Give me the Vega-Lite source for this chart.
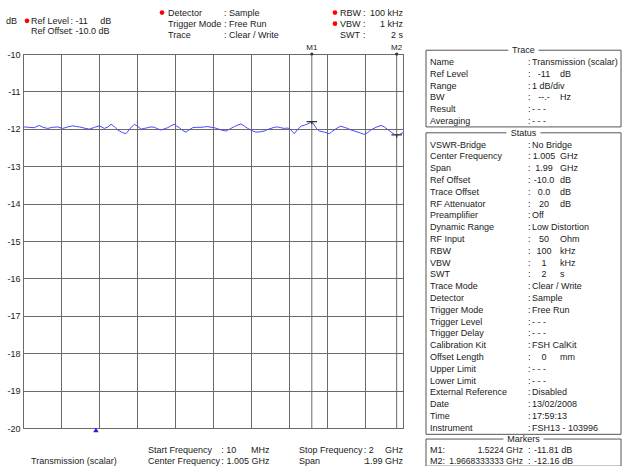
{
  "$schema": "https://vega.github.io/schema/vega-lite/v6.json",
  "background": "white",
  "padding": 0,
  "autosize": {"type": "pad"},
  "bounds": "flush",
  "spacing": 23,
  "config": {
    "text": {"font": "Liberation Sans", "fontSize": 9, "color": "#1a1a1a", "baseline": "middle"},
    "axis": {"labelFont": "Liberation Sans"},
    "view": {"stroke": null}
  },
  "datasets": {
    "trace": [
      {"f": 10, "db": -11.96}, {"f": 17, "db": -11.95}, {"f": 40, "db": -11.96}, {"f": 69, "db": -11.97},
      {"f": 95, "db": -11.91}, {"f": 115, "db": -11.96}, {"f": 139, "db": -11.99}, {"f": 165, "db": -11.96},
      {"f": 192, "db": -11.95}, {"f": 218, "db": -11.99}, {"f": 245, "db": -11.95}, {"f": 270, "db": -11.92},
      {"f": 290, "db": -11.94}, {"f": 305, "db": -11.95}, {"f": 330, "db": -11.98}, {"f": 357, "db": -12.01},
      {"f": 385, "db": -11.96}, {"f": 410, "db": -11.92}, {"f": 436, "db": -11.99}, {"f": 455, "db": -11.95},
      {"f": 471, "db": -11.88}, {"f": 490, "db": -11.95}, {"f": 506, "db": -12.03}, {"f": 530, "db": -12.1},
      {"f": 549, "db": -12.13}, {"f": 570, "db": -12.0}, {"f": 593, "db": -11.88}, {"f": 610, "db": -11.93},
      {"f": 628, "db": -12.01}, {"f": 645, "db": -11.99}, {"f": 663, "db": -11.97}, {"f": 680, "db": -11.95},
      {"f": 698, "db": -11.96}, {"f": 715, "db": -12.0}, {"f": 733, "db": -12.03}, {"f": 750, "db": -12.0},
      {"f": 768, "db": -11.97}, {"f": 785, "db": -11.92}, {"f": 802, "db": -11.88}, {"f": 815, "db": -11.93},
      {"f": 829, "db": -11.97}, {"f": 845, "db": -12.04}, {"f": 864, "db": -12.09}, {"f": 882, "db": -12.02},
      {"f": 899, "db": -11.97}, {"f": 920, "db": -11.96}, {"f": 942, "db": -11.96}, {"f": 960, "db": -11.95},
      {"f": 977, "db": -11.94}, {"f": 995, "db": -11.96}, {"f": 1012, "db": -11.97}, {"f": 1030, "db": -12.0},
      {"f": 1047, "db": -12.03}, {"f": 1073, "db": -12.06}, {"f": 1095, "db": -12.0}, {"f": 1117, "db": -11.94},
      {"f": 1135, "db": -11.9}, {"f": 1152, "db": -11.87}, {"f": 1170, "db": -11.93}, {"f": 1187, "db": -11.99},
      {"f": 1210, "db": -12.05}, {"f": 1230, "db": -12.09}, {"f": 1252, "db": -12.08}, {"f": 1274, "db": -12.06},
      {"f": 1290, "db": -12.02}, {"f": 1309, "db": -11.99}, {"f": 1325, "db": -11.96}, {"f": 1344, "db": -11.95},
      {"f": 1360, "db": -11.97}, {"f": 1378, "db": -11.99}, {"f": 1392, "db": -11.98}, {"f": 1405, "db": -11.99},
      {"f": 1418, "db": -12.06}, {"f": 1431, "db": -12.13}, {"f": 1448, "db": -12.02}, {"f": 1466, "db": -11.93},
      {"f": 1485, "db": -11.9}, {"f": 1501, "db": -11.87}, {"f": 1512, "db": -11.84}, {"f": 1522.4, "db": -11.81},
      {"f": 1535, "db": -11.9}, {"f": 1548, "db": -12.0}, {"f": 1562, "db": -12.06}, {"f": 1588, "db": -12.09},
      {"f": 1614, "db": -12.13}, {"f": 1627, "db": -12.08}, {"f": 1640, "db": -12.03}, {"f": 1658, "db": -11.97},
      {"f": 1675, "db": -11.93}, {"f": 1692, "db": -11.96}, {"f": 1710, "db": -11.99}, {"f": 1728, "db": -12.03},
      {"f": 1745, "db": -12.06}, {"f": 1770, "db": -12.1}, {"f": 1797, "db": -12.15}, {"f": 1815, "db": -12.1},
      {"f": 1832, "db": -12.03}, {"f": 1858, "db": -11.96}, {"f": 1885, "db": -11.91}, {"f": 1902, "db": -11.95},
      {"f": 1920, "db": -12.02}, {"f": 1938, "db": -12.09}, {"f": 1955, "db": -12.15}, {"f": 1966.83, "db": -12.16},
      {"f": 1982, "db": -12.15}, {"f": 2000, "db": -12.1}
    ],
    "markers": [
      {"name": "M1", "lab": "M1:", "f": 1522.4, "db": -11.81, "flabel": "1.5224 GHz", "dlabel": "-11.81 dB", "row": 33.9},
      {"name": "M2", "lab": "M2:", "f": 1966.8333333, "db": -12.16, "flabel": "1.9668333333 GHz", "dlabel": "-12.16 dB", "row": 34.85}
    ],
    "hdr": [
      {"blk": "ref", "line": 1.8, "label": "Ref Level", "val": ": -11", "unit": "dB", "dot": 1},
      {"blk": "ref", "line": 2.75, "label": "Ref Offset", "val": ": -10.0 dB", "dot": 0},
      {"blk": "det", "line": 1.05, "label": "Detector", "val": ": Sample", "dot": 1},
      {"blk": "det", "line": 2.05, "label": "Trigger Mode", "val": ": Free Run", "dot": 0},
      {"blk": "det", "line": 3.05, "label": "Trace", "val": ": Clear / Write", "dot": 0},
      {"blk": "bw", "line": 1.05, "label": "RBW", "val": "100 kHz", "dot": 1},
      {"blk": "bw", "line": 2.05, "label": "VBW", "val": "1 kHz", "dot": 1},
      {"blk": "bw", "line": 3.05, "label": "SWT", "val": "2 s", "dot": 0}
    ],
    "ftr": [
      {"blk": "start", "line": 2, "label": "Start Frequency", "cv": ": 10", "right": "MHz"},
      {"blk": "start", "line": 3, "label": "Center Frequency", "cv": ":", "right": "1.005 GHz"},
      {"blk": "stop", "line": 2, "label": "Stop Frequency", "cv": ": 2", "right": "GHz"},
      {"blk": "stop", "line": 3, "label": "Span", "cv": ":", "right": "1.99 GHz"}
    ],
    "info": [
      {"row": 1, "label": "Name", "val": "Transmission (scalar)"},
      {"row": 2, "label": "Ref Level", "num": "-11", "unit": "dB"},
      {"row": 3, "label": "Range", "val": "1 dB/div"},
      {"row": 4, "label": "BW", "num": "--.-", "unit": "Hz"},
      {"row": 5, "label": "Result", "val": "- - -"},
      {"row": 6, "label": "Averaging", "val": "- - -"},
      {"row": 8, "label": "VSWR-Bridge", "val": "No Bridge"},
      {"row": 9, "label": "Center Frequency", "num": "1.005", "unit": "GHz"},
      {"row": 10, "label": "Span", "num": "1.99", "unit": "GHz"},
      {"row": 11, "label": "Ref Offset", "num": "-10.0", "unit": "dB"},
      {"row": 12, "label": "Trace Offset", "num": "0.0", "unit": "dB"},
      {"row": 13, "label": "RF Attenuator", "num": "20", "unit": "dB"},
      {"row": 14, "label": "Preamplifier", "val": "Off"},
      {"row": 15, "label": "Dynamic Range", "val": "Low Distortion"},
      {"row": 16, "label": "RF Input", "num": "50", "unit": "Ohm"},
      {"row": 17, "label": "RBW", "num": "100", "unit": "kHz"},
      {"row": 18, "label": "VBW", "num": "1", "unit": "kHz"},
      {"row": 19, "label": "SWT", "num": "2", "unit": "s"},
      {"row": 20, "label": "Trace Mode", "val": "Clear / Write"},
      {"row": 21, "label": "Detector", "val": "Sample"},
      {"row": 22, "label": "Trigger Mode", "val": "Free Run"},
      {"row": 23, "label": "Trigger Level", "val": "- - -"},
      {"row": 24, "label": "Trigger Delay", "val": "- - -"},
      {"row": 25, "label": "Calibration Kit", "val": "FSH CalKit"},
      {"row": 26, "label": "Offset Length", "num": "0", "unit": "mm"},
      {"row": 27, "label": "Upper Limit", "val": "- - -"},
      {"row": 28, "label": "Lower Limit", "val": "- - -"},
      {"row": 29, "label": "External Reference", "val": "Disabled"},
      {"row": 30, "label": "Date", "val": "13/02/2008"},
      {"row": 31, "label": "Time", "val": "17:59:13"},
      {"row": 32, "label": "Instrument", "val": "FSH13 - 103996"}
    ]
  },
  "hconcat": [
    {
      "width": 380, "height": 374,
      "view": {"stroke": "#4d4d4d", "strokeWidth": 1, "fill": "white"},
      "resolve": {"scale": {"x": "independent", "y": "independent"}},
      "layer": [
        {
          "layer": [
            {"data": {"values": [{}]}, "mark": {"type": "rect", "color": "white", "opacity": 1},
             "encoding": {"x": {"datum": -5.79, "type": "quantitative", "scale": {"domain": [0, 100], "nice": false, "zero": false}, "axis": null}, "x2": {"datum": 0},
                          "y": {"datum": 0, "type": "quantitative", "scale": {"domain": [4.8007, 38.678], "reverse": true, "nice": false, "zero": false}, "axis": null}, "y2": {"datum": 4.2}}},
            {"data": {"values": [{}]}, "mark": {"type": "text", "text": "dB", "align": "left"},
             "encoding": {"x": {"datum": -4.47, "type": "quantitative"},
                          "y": {"datum": 1.8, "type": "quantitative"}}},
            {"data": {"name": "hdr"}, "transform": [{"filter": "datum.blk == 'ref'"}], "mark": {"type": "text", "align": "left"},
             "encoding": {"x": {"datum": 2.1, "type": "quantitative"}, "y": {"field": "line", "type": "quantitative"}, "text": {"field": "label"}}},
            {"data": {"name": "hdr"}, "transform": [{"filter": "datum.blk == 'ref'"}], "mark": {"type": "text", "align": "left"},
             "encoding": {"x": {"datum": 12.5, "type": "quantitative"}, "y": {"field": "line", "type": "quantitative"}, "text": {"field": "val"}}},
            {"data": {"name": "hdr"}, "transform": [{"filter": "datum.blk == 'ref' && isValid(datum.unit)"}], "mark": {"type": "text", "align": "left"},
             "encoding": {"x": {"datum": 20.3, "type": "quantitative"}, "y": {"field": "line", "type": "quantitative"}, "text": {"field": "unit"}}},
            {"data": {"name": "hdr"}, "transform": [{"filter": "datum.blk == 'ref' && datum.dot == 1"}], "mark": {"type": "point", "filled": true, "color": "#ff0000", "size": 22, "opacity": 1},
             "encoding": {"x": {"datum": 1.05, "type": "quantitative"}, "y": {"field": "line", "type": "quantitative"}}},
            {"data": {"name": "hdr"}, "transform": [{"filter": "datum.blk == 'det'"}], "mark": {"type": "text", "align": "left"},
             "encoding": {"x": {"datum": 38.16, "type": "quantitative"}, "y": {"field": "line", "type": "quantitative"}, "text": {"field": "label"}}},
            {"data": {"name": "hdr"}, "transform": [{"filter": "datum.blk == 'det'"}], "mark": {"type": "text", "align": "left"},
             "encoding": {"x": {"datum": 52.9, "type": "quantitative"}, "y": {"field": "line", "type": "quantitative"}, "text": {"field": "val"}}},
            {"data": {"name": "hdr"}, "transform": [{"filter": "datum.blk == 'det' && datum.dot == 1"}], "mark": {"type": "point", "filled": true, "color": "#ff0000", "size": 22, "opacity": 1},
             "encoding": {"x": {"datum": 36.58, "type": "quantitative"}, "y": {"field": "line", "type": "quantitative"}}},
            {"data": {"name": "hdr"}, "transform": [{"filter": "datum.blk == 'bw'"}], "mark": {"type": "text", "align": "left"},
             "encoding": {"x": {"datum": 83.42, "type": "quantitative"}, "y": {"field": "line", "type": "quantitative"}, "text": {"field": "label"}}},
            {"data": {"name": "hdr"}, "transform": [{"filter": "datum.blk == 'bw'"}], "mark": {"type": "text", "align": "left", "text": ":"},
             "encoding": {"x": {"datum": 89.5, "type": "quantitative"}, "y": {"field": "line", "type": "quantitative"}}},
            {"data": {"name": "hdr"}, "transform": [{"filter": "datum.blk == 'bw'"}], "mark": {"type": "text", "align": "right"},
             "encoding": {"x": {"datum": 100, "type": "quantitative"}, "y": {"field": "line", "type": "quantitative"}, "text": {"field": "val"}}},
            {"data": {"name": "hdr"}, "transform": [{"filter": "datum.blk == 'bw' && datum.dot == 1"}], "mark": {"type": "point", "filled": true, "color": "#ff0000", "size": 22, "opacity": 1},
             "encoding": {"x": {"datum": 82.1, "type": "quantitative"}, "y": {"field": "line", "type": "quantitative"}}}
          ]
        },
        {
          "layer": [
            {"data": {"values": [{}]}, "mark": {"type": "text", "text": "Transmission (scalar)", "align": "left"},
             "encoding": {"x": {"datum": 2.1, "type": "quantitative", "scale": {"domain": [0, 100], "nice": false, "zero": false}, "axis": null},
                          "y": {"datum": 3, "type": "quantitative", "scale": {"domain": [-33.877, 0], "reverse": true, "nice": false, "zero": false}, "axis": null}}},
            {"data": {"name": "ftr"}, "transform": [{"filter": "datum.blk == 'start'"}], "mark": {"type": "text", "align": "left"},
             "encoding": {"x": {"datum": 32.9, "type": "quantitative"}, "y": {"field": "line", "type": "quantitative"}, "text": {"field": "label"}}},
            {"data": {"name": "ftr"}, "transform": [{"filter": "datum.blk == 'start'"}], "mark": {"type": "text", "align": "left"},
             "encoding": {"x": {"datum": 52.2, "type": "quantitative"}, "y": {"field": "line", "type": "quantitative"}, "text": {"field": "cv"}}},
            {"data": {"name": "ftr"}, "transform": [{"filter": "datum.blk == 'start'"}], "mark": {"type": "text", "align": "right"},
             "encoding": {"x": {"datum": 64.9, "type": "quantitative"}, "y": {"field": "line", "type": "quantitative"}, "text": {"field": "right"}}},
            {"data": {"name": "ftr"}, "transform": [{"filter": "datum.blk == 'stop'"}], "mark": {"type": "text", "align": "left"},
             "encoding": {"x": {"datum": 72.6, "type": "quantitative"}, "y": {"field": "line", "type": "quantitative"}, "text": {"field": "label"}}},
            {"data": {"name": "ftr"}, "transform": [{"filter": "datum.blk == 'stop'"}], "mark": {"type": "text", "align": "left"},
             "encoding": {"x": {"datum": 89.7, "type": "quantitative"}, "y": {"field": "line", "type": "quantitative"}, "text": {"field": "cv"}}},
            {"data": {"name": "ftr"}, "transform": [{"filter": "datum.blk == 'stop'"}], "mark": {"type": "text", "align": "right"},
             "encoding": {"x": {"datum": 100, "type": "quantitative"}, "y": {"field": "line", "type": "quantitative"}, "text": {"field": "right"}}}
          ]
        },
        {
          "layer": [
            {"data": {"name": "markers"}, "mark": {"type": "rule", "color": "#6a6a6a", "strokeWidth": 1},
             "encoding": {"x": {"field": "f", "type": "quantitative", "scale": {"domain": [10, 2000], "nice": false, "zero": false},
                                "axis": {"orient": "bottom", "values": [10, 209, 408, 607, 806, 1005, 1204, 1403, 1602, 1801, 2000], "tickCount": 30, "grid": true, "labels": false, "ticks": false, "tickSize": 0, "domain": false, "title": null, "gridColor": "#6a6a6a", "gridWidth": 1, "gridOpacity": 1}}}},
            {"data": {"name": "trace"}, "mark": {"type": "line", "color": "#4848ff", "strokeWidth": 1},
             "encoding": {"x": {"field": "f", "type": "quantitative", "title": null},
                          "y": {"field": "db", "type": "quantitative", "scale": {"domain": [-20, -10], "nice": false, "zero": false},
                                "axis": {"orient": "left", "values": [-20, -19, -18, -17, -16, -15, -14, -13, -12, -11, -10], "tickCount": 30, "labelExpr": "'' + datum.value", "labelOverlap": false, "labelBound": false, "grid": true, "ticks": false, "tickSize": 0, "domain": false, "title": null, "labelFontSize": 9, "labelColor": "#1a1a1a", "labelPadding": 3, "gridColor": "#6a6a6a", "gridWidth": 1, "gridOpacity": 1}}}},
            {"data": {"name": "markers"}, "mark": {"type": "point", "shape": "M-1,0L1,0M0,0L0,0.5", "filled": false, "stroke": "#333333", "strokeWidth": 1.3, "size": 110, "opacity": 1},
             "encoding": {"x": {"field": "f", "type": "quantitative", "title": null}, "y": {"field": "db", "type": "quantitative", "title": null}}},
            {"data": {"name": "markers"}, "mark": {"type": "point", "filled": true, "color": "#333333", "size": 10, "opacity": 1},
             "encoding": {"x": {"field": "f", "type": "quantitative", "title": null}, "y": {"datum": -10, "type": "quantitative"}}},
            {"data": {"name": "markers"}, "mark": {"type": "text", "dy": -6, "fontSize": 8, "align": "center"},
             "encoding": {"x": {"field": "f", "type": "quantitative", "title": null}, "y": {"datum": -10, "type": "quantitative"}, "text": {"field": "name"}}},
            {"data": {"values": [{}]}, "mark": {"type": "point", "shape": "triangle-up", "filled": true, "color": "#2020e8", "size": 30, "opacity": 1, "yOffset": 2},
             "encoding": {"x": {"datum": 392, "type": "quantitative"}, "y": {"datum": -20, "type": "quantitative"}}}
          ]
        }
      ]
    },
    {
      "width": 196, "height": 413,
      "view": {"stroke": null, "fill": "white"},
      "layer": [
        {"data": {"values": [{}]}, "mark": {"type": "rect", "filled": false, "color": "#555555", "strokeWidth": 1},
         "encoding": {"x": {"datum": 0, "type": "quantitative", "scale": {"domain": [0, 100], "nice": false, "zero": false}, "axis": null}, "x2": {"datum": 99.5},
                      "y": {"datum": 0, "type": "quantitative", "scale": {"domain": [0.3216, 35.32], "reverse": true, "nice": false, "zero": false}, "axis": null}, "y2": {"datum": 6.5}}},
        {"data": {"values": [{}]}, "mark": {"type": "rect", "filled": false, "color": "#555555", "strokeWidth": 1},
         "encoding": {"x": {"datum": 0, "type": "quantitative"}, "x2": {"datum": 99.5}, "y": {"datum": 7, "type": "quantitative"}, "y2": {"datum": 32.55}}},
        {"data": {"values": [{}]}, "mark": {"type": "rect", "filled": false, "color": "#555555", "strokeWidth": 1},
         "encoding": {"x": {"datum": 0, "type": "quantitative"}, "x2": {"datum": 99.5}, "y": {"datum": 32.95, "type": "quantitative"}, "y2": {"datum": 35.25}}},
        {"data": {"values": [{}]}, "mark": {"type": "rect", "color": "white", "opacity": 1},
         "encoding": {"x": {"datum": 42.0, "type": "quantitative"}, "x2": {"datum": 57.4}, "y": {"datum": -0.35, "type": "quantitative"}, "y2": {"datum": 0.35}}},
        {"data": {"values": [{}]}, "mark": {"type": "rect", "color": "white", "opacity": 1},
         "encoding": {"x": {"datum": 41.0, "type": "quantitative"}, "x2": {"datum": 58.4}, "y": {"datum": 6.65, "type": "quantitative"}, "y2": {"datum": 7.35}}},
        {"data": {"values": [{}]}, "mark": {"type": "rect", "color": "white", "opacity": 1},
         "encoding": {"x": {"datum": 39.5, "type": "quantitative"}, "x2": {"datum": 59.9}, "y": {"datum": 32.6, "type": "quantitative"}, "y2": {"datum": 33.3}}},
        {"data": {"values": [{}]}, "mark": {"type": "text", "text": "Trace", "align": "center"},
         "encoding": {"x": {"datum": 49.7, "type": "quantitative"}, "y": {"datum": 0, "type": "quantitative"}}},
        {"data": {"values": [{}]}, "mark": {"type": "text", "text": "Status", "align": "center"},
         "encoding": {"x": {"datum": 49.7, "type": "quantitative"}, "y": {"datum": 7, "type": "quantitative"}}},
        {"data": {"values": [{}]}, "mark": {"type": "text", "text": "Markers", "align": "center"},
         "encoding": {"x": {"datum": 49.7, "type": "quantitative"}, "y": {"datum": 32.95, "type": "quantitative"}}},
        {"data": {"name": "info"}, "mark": {"type": "text", "align": "left"},
         "encoding": {"x": {"datum": 2.04, "type": "quantitative"}, "y": {"field": "row", "type": "quantitative"}, "text": {"field": "label"}}},
        {"data": {"name": "info"}, "mark": {"type": "text", "align": "left", "text": ":"},
         "encoding": {"x": {"datum": 52.04, "type": "quantitative"}, "y": {"field": "row", "type": "quantitative"}}},
        {"data": {"name": "info"}, "transform": [{"filter": "isValid(datum.val)"}], "mark": {"type": "text", "align": "left"},
         "encoding": {"x": {"datum": 54.1, "type": "quantitative"}, "y": {"field": "row", "type": "quantitative"}, "text": {"field": "val"}}},
        {"data": {"name": "info"}, "transform": [{"filter": "isValid(datum.num)"}], "mark": {"type": "text", "align": "center"},
         "encoding": {"x": {"datum": 60.2, "type": "quantitative"}, "y": {"field": "row", "type": "quantitative"}, "text": {"field": "num"}}},
        {"data": {"name": "info"}, "transform": [{"filter": "isValid(datum.unit)"}], "mark": {"type": "text", "align": "left"},
         "encoding": {"x": {"datum": 68.4, "type": "quantitative"}, "y": {"field": "row", "type": "quantitative"}, "text": {"field": "unit"}}},
        {"data": {"name": "markers"}, "mark": {"type": "text", "align": "left"},
         "encoding": {"x": {"datum": 2.04, "type": "quantitative"}, "y": {"field": "row", "type": "quantitative"}, "text": {"field": "lab"}}},
        {"data": {"name": "markers"}, "mark": {"type": "text", "align": "right", "fontSize": 8.5},
         "encoding": {"x": {"datum": 49.5, "type": "quantitative"}, "y": {"field": "row", "type": "quantitative"}, "text": {"field": "flabel"}}},
        {"data": {"name": "markers"}, "mark": {"type": "text", "align": "left", "text": ":"},
         "encoding": {"x": {"datum": 52.04, "type": "quantitative"}, "y": {"field": "row", "type": "quantitative"}}},
        {"data": {"name": "markers"}, "mark": {"type": "text", "align": "left"},
         "encoding": {"x": {"datum": 55.1, "type": "quantitative"}, "y": {"field": "row", "type": "quantitative"}, "text": {"field": "dlabel"}}}
      ]
    }
  ]
}
